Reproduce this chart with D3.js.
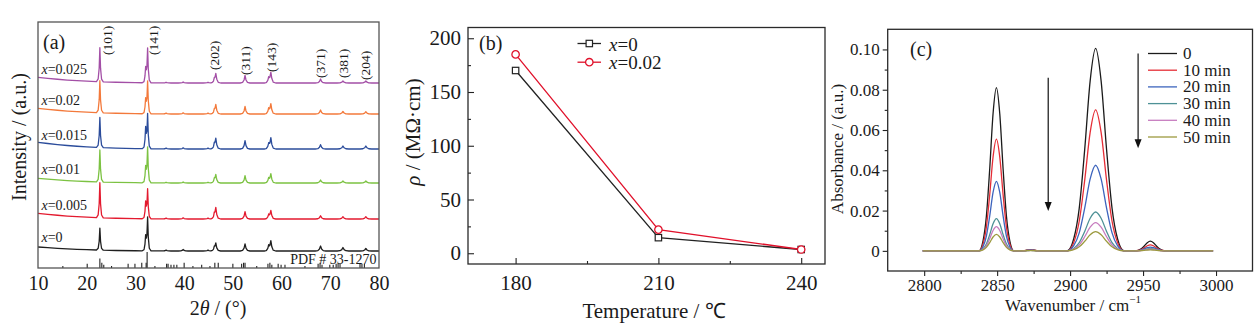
<!DOCTYPE html>
<html>
<head>
<meta charset="utf-8">
<script src="https://cdn.jsdelivr.net/npm/d3@7"></script>
<style>
  body { margin: 0; background: #fff; }
  svg text { font-family: "Liberation Serif", "Times New Roman", serif; fill: #1a1a1a; }
</style>
</head>
<body>
<svg id="fig" width="1254" height="323"></svg>
<script>
// ---------- (a) XRD patterns ----------
const xrdDoping = ["0", "0.005", "0.01", "0.015", "0.02", "0.025"];
const xrdColors = ["#1f1f1f", "#e31a2f", "#7cc242", "#2b4c9b", "#f3793b", "#a34fa6"];
const xrdOffsets = [17, 49, 85, 119, 154, 185];          // stacking offset, a.u.
const xrdStartBg = [4, 5.7, 4.7, 6.7, 5.7, 5.7];         // background level at 10°
const bgAngles = [10, 12, 14, 16, 18, 20, 23, 26, 30, 36, 80];
const bgShape  = [1, 0.82, 0.66, 0.52, 0.41, 0.32, 0.21, 0.13, 0.06, 0, 0];
const peakHkl    = ["(101)", "(141)", "(202)", "(311)", "(143)", "(371)", "(381)", "(204)"];
const peakAngles = [22.7, 32.5, 46.5, 52.5, 57.8, 68.0, 72.6, 77.3];
const peakWidths = [0.7, 0.7, 1.0, 1.0, 1.0, 1.1, 1.2, 1.2];
const peakHeights = [
  [22, 33, 7.5, 7.0, 10.0, 5.0, 3.5, 2.5],
  [35, 29, 10.7, 7.3, 8.3, 3.3, 2.3, 2.3],
  [32, 35, 8.0, 7.3, 9.0, 3.0, 2.0, 2.0],
  [30, 34, 10.0, 8.3, 11.0, 4.3, 3.0, 3.0],
  [32, 32, 9.0, 7.5, 10.0, 4.0, 2.5, 2.3],
  [34, 34, 9.0, 7.5, 10.5, 4.0, 2.0, 2.0]
];
const minorAngles = [32.1, 57.35, 46.2, 39.8, 36.3, 44.9];
const minorWidths = [0.7, 0.9, 0.8, 1.0, 1.0, 1.0];
const minorHeights = [
  [14, 5, 3, 1.5, 0.8, 0.8],
  [16, 4, 4, 1.2, 0.8, 0.8],
  [15, 4.5, 3, 1.0, 0.7, 0.7],
  [20, 5, 4, 1.2, 0.8, 0.8],
  [14, 5, 3, 1.2, 0.8, 0.8],
  [14, 5, 3, 1.0, 0.7, 0.7]
];
const xrdProfileU = [-1, -0.5, -0.2, 0, 0.2, 0.5, 1];
const xrdProfileV = [0, 0.08, 0.4, 1, 0.4, 0.08, 0];
const hklLabelAngles = [24.2, 33.8, 46.3, 52.5, 57.9, 67.9, 72.7, 77.3];
const hklLabelBase   = [213, 213, 198, 193, 196, 190, 190, 188];
// PDF # 33-1270 reference lines
const pdfAngles = [15.1, 20.1, 22.7, 23.1, 23.5, 25.1, 28.5, 29.9, 31.3, 32.2, 32.4, 34.0, 36.4, 36.7, 37.3, 37.9, 38.5,
  40.0, 41.8, 43.6, 45.3, 46.3, 47.0, 50.0, 51.8, 52.2, 52.5, 54.9, 57.2, 57.6, 58.0, 59.3, 59.9, 60.7, 64.8,
  67.5, 67.9, 68.3, 69.9, 70.6, 71.2, 71.6, 72.0, 76.1, 76.5, 77.0];
const pdfIntensity = [13, 27, 60, 33, 20, 13, 27, 27, 33, 33, 100, 13, 27, 27, 20, 20, 20,
  33, 13, 20, 13, 33, 33, 27, 27, 33, 33, 13, 27, 33, 20, 27, 20, 20, 13,
  27, 33, 20, 20, 20, 27, 27, 27, 27, 27, 27];
const xrdTicks = [10, 20, 30, 40, 50, 60, 70, 80];

// ---------- (b) resistivity ----------
const temps = [180, 210, 240];
const rhoX0 = [170, 14.5, 3.5];
const rhoX002 = [185, 22, 3.5];
const rhoMajor = [0, 50, 100, 150, 200];
const rhoMinor = [25, 75, 125, 175];
const tempMajor = [180, 210, 240];
const tempMinor = [195, 225];

// ---------- (c) FTIR ----------
const ftirTimes = ["0", "10 min", "20 min", "30 min", "40 min", "50 min"];
const ftirColors = ["#1b1b1b", "#e52d36", "#3d64bd", "#4e9196", "#c77cbf", "#9c9a3f"];
const bandCenters = [2849.5, 2873, 2917.5, 2955];
const bandHwhm = [4.6, 3, 7.5, 4.2];
const bandHeights = [
  [0.0810, 0.0006, 0.1005, 0.0048],
  [0.0555, 0.0004, 0.0700, 0.0030],
  [0.0345, 0.0003, 0.0425, 0.0019],
  [0.0160, 0.0002, 0.0193, 0.0012],
  [0.0120, 0.0002, 0.0140, 0.0008],
  [0.0082, 0.0001, 0.0095, 0.0005]
];
const scanRange = [2799, 2998];
const bandProfileU = [-2.6, -2, -1.5, -1, -0.5, 0, 0.5, 1, 1.5, 2, 2.6];
const bandProfileV = [0, 0.06, 0.21, 0.5, 0.84, 1, 0.84, 0.5, 0.21, 0.06, 0];
const wnMajor = [2800, 2850, 2900, 2950, 3000];
const wnMinor = [2825, 2875, 2925, 2975];
const absMajor = [0, 0.02, 0.04, 0.06, 0.08, 0.10];
const absMinor = [0.01, 0.03, 0.05, 0.07, 0.09];
const trendArrows = [
  { wn: 2885, from: 0.086, to: 0.0198 },
  { wn: 2946.6, from: 0.098, to: 0.051 }
];

const SERIF = '"Liberation Serif", "Times New Roman", serif';
const svg = d3.select("#fig");
svg.append("rect").attr("width", 1254).attr("height", 323).attr("fill", "#fff");

function styleAxis(g, size) {
  g.attr("font-family", null).attr("font-size", null);
  g.selectAll("text").style("font-family", SERIF).style("font-size", size + "px").attr("fill", "#1a1a1a");
  g.selectAll("line").attr("stroke", "#222").attr("stroke-width", 1.1);
  g.select(".domain").remove();
}

// ================= panel (a) =================
(function () {
  const g = svg.append("g");
  const x = d3.scaleLinear().domain([10, 80]).range([38, 379]);
  const y = d3.scaleLinear().domain([0, 246]).range([268, 22]);
  const sy = d3.scaleLinear().domain([0, 100]).range([268, 252]);
  const bg = d3.scaleLinear().domain(bgAngles).range(bgShape).clamp(true);
  const prof = d3.scaleLinear().domain(xrdProfileU).range(xrdProfileV).clamp(true);

  function points(i) {
    const peaks = [];
    peakAngles.forEach((a, k) => peaks.push([a, peakWidths[k], peakHeights[i][k]]));
    minorAngles.forEach((a, k) => peaks.push([a, minorWidths[k], minorHeights[i][k]]));
    const knots = new Set(bgAngles);
    peaks.forEach(([a, w]) => xrdProfileU.forEach(u => knots.add(+(a + u * w).toFixed(4))));
    return Array.from(knots).filter(t => t >= 10 && t <= 80).sort((p, q) => p - q).map(t => {
      let v = xrdOffsets[i] + xrdStartBg[i] * bg(t);
      peaks.forEach(([a, w, h]) => {
        const u = (t - a) / w;
        if (Math.abs(u) < 1) v += h * prof(u);
      });
      return [t, v];
    });
  }

  const line = d3.line().x(d => x(d[0])).y(d => y(d[1]));
  xrdDoping.forEach((_, i) => {
    g.append("path").attr("d", line(points(i))).attr("fill", "none")
      .attr("stroke", xrdColors[i]).attr("stroke-width", 1.3).attr("stroke-linejoin", "round");
  });

  // reference sticks
  g.selectAll("line.pdf").data(pdfAngles).join("line").attr("class", "pdf")
    .attr("x1", d => x(d)).attr("x2", d => x(d))
    .attr("y1", sy(0)).attr("y2", (d, i) => sy(pdfIntensity[i]))
    .attr("stroke", "#222").attr("stroke-width", 1.1);

  g.append("rect").attr("x", 38).attr("y", 22).attr("width", 341).attr("height", 246)
    .attr("fill", "none").attr("stroke", "#555").attr("stroke-width", 1.3);

  // sample labels
  xrdDoping.forEach((d, i) => {
    const t = g.append("text").attr("x", 41.5).attr("y", y(xrdOffsets[i] + 14))
      .attr("dominant-baseline", "central").attr("font-size", 14);
    t.append("tspan").attr("font-style", "italic").text("x");
    t.append("tspan").text("=" + d);
  });

  // hkl labels
  peakHkl.forEach((lab, k) => {
    g.append("text")
      .attr("transform", `translate(${x(hklLabelAngles[k])},${y(hklLabelBase[k])}) rotate(-90)`)
      .attr("dominant-baseline", "central").attr("font-size", 13.5).text(lab);
  });

  g.append("text").attr("x", 43).attr("y", 42).attr("dominant-baseline", "central")
    .attr("font-size", 20).text("(a)");
  g.append("text").attr("x", 376.5).attr("y", 264).attr("text-anchor", "end")
    .attr("font-size", 14).text("PDF # 33-1270");

  const ax = g.append("g").attr("transform", "translate(0,268)")
    .call(d3.axisBottom(x).tickValues(xrdTicks).tickSize(0).tickPadding(8));
  styleAxis(ax, 20);

  g.append("text").attr("transform", "translate(19,137) rotate(-90)")
    .attr("text-anchor", "middle").attr("dominant-baseline", "central")
    .attr("font-size", 20).text("Intensity / (a.u.)");
  const xt = g.append("text").attr("x", 218).attr("y", 308).attr("text-anchor", "middle")
    .attr("dominant-baseline", "central").attr("font-size", 20);
  xt.append("tspan").text("2");
  xt.append("tspan").attr("font-style", "italic").text("θ");
  xt.append("tspan").text(" / (°)");
})();

// ================= panel (b) =================
(function () {
  const g = svg.append("g");
  const x = d3.scaleLinear().domain([170, 245]).range([468, 825]);
  const y = d3.scaleLinear().domain([-10, 210]).range([264, 27.5]);

  const axB = g.append("g").attr("transform", "translate(0,264)")
    .call(d3.axisBottom(x).tickValues(tempMajor).tickSize(-6).tickPadding(11).tickFormat(d3.format("d")));
  styleAxis(axB, 21);
  const axBm = g.append("g").attr("transform", "translate(0,264)")
    .call(d3.axisBottom(x).tickValues(tempMinor).tickSize(-3).tickFormat(""));
  styleAxis(axBm, 21);
  const axL = g.append("g").attr("transform", "translate(468,0)")
    .call(d3.axisLeft(y).tickValues(rhoMajor).tickSize(-6).tickPadding(7).tickFormat(d3.format("d")));
  styleAxis(axL, 21);
  const axLm = g.append("g").attr("transform", "translate(468,0)")
    .call(d3.axisLeft(y).tickValues(rhoMinor).tickSize(-3).tickFormat(""));
  styleAxis(axLm, 21);

  g.append("rect").attr("x", 468).attr("y", 27.5).attr("width", 357).attr("height", 236.5)
    .attr("fill", "none").attr("stroke", "#2a2a2a").attr("stroke-width", 1.3);

  const series = [
    { vals: rhoX0, color: "#222", shape: "square" },
    { vals: rhoX002, color: "#e0102a", shape: "circle" }
  ];
  const line = d3.line().x((d, i) => x(temps[i])).y(d => y(d));
  function marker(sel, shape, color) {
    if (shape === "square") {
      sel.append("rect").attr("x", -3.2).attr("y", -3.2).attr("width", 6.4).attr("height", 6.4)
        .attr("fill", "#fff").attr("stroke", color).attr("stroke-width", 1.2);
    } else {
      sel.append("circle").attr("r", 3.7).attr("fill", "#fff")
        .attr("stroke", color).attr("stroke-width", 1.3);
    }
  }
  series.forEach(s => {
    g.append("path").attr("d", line(s.vals)).attr("fill", "none")
      .attr("stroke", s.color).attr("stroke-width", 1.3);
    s.vals.forEach((v, i) => {
      const m = g.append("g").attr("transform", `translate(${x(temps[i])},${y(v)})`);
      marker(m, s.shape, s.color);
    });
  });

  // legend
  const legendLabels = ["0", "0.02"];
  series.forEach((s, i) => {
    const ly = 43.5 + i * 18.7;
    g.append("line").attr("x1", 577.5).attr("x2", 601).attr("y1", ly).attr("y2", ly)
      .attr("stroke", s.color).attr("stroke-width", 1.3);
    const m = g.append("g").attr("transform", `translate(589.3,${ly})`);
    marker(m, s.shape, s.color);
    const t = g.append("text").attr("x", 609).attr("y", ly).attr("dominant-baseline", "central")
      .attr("font-size", 19);
    t.append("tspan").attr("font-style", "italic").text("x");
    t.append("tspan").text("=" + legendLabels[i]);
  });

  g.append("text").attr("x", 479).attr("y", 43).attr("dominant-baseline", "central")
    .attr("font-size", 20).text("(b)");

  const yt = g.append("text").attr("transform", "translate(413,132) rotate(-90)")
    .attr("text-anchor", "middle").attr("dominant-baseline", "central").attr("font-size", 21);
  yt.append("tspan").attr("font-style", "italic").text("ρ");
  yt.append("tspan").text(" / (MΩ·cm)");
  g.append("text").attr("x", 654).attr("y", 311).attr("text-anchor", "middle")
    .attr("dominant-baseline", "central").attr("font-size", 21).text("Temperature / ℃");
})();

// ================= panel (c) =================
(function () {
  const g = svg.append("g");
  const x = d3.scaleLinear().domain([2775, 3025]).range([887.7, 1252.5]);
  const y = d3.scaleLinear().domain([-0.01, 0.11]).range([271, 29.3]);
  const prof = d3.scaleLinear().domain(bandProfileU).range(bandProfileV).clamp(true);

  function spectrum(i) {
    const knots = new Set(scanRange);
    bandCenters.forEach((c, k) => bandProfileU.forEach(u => knots.add(+(c + u * bandHwhm[k]).toFixed(4))));
    return Array.from(knots).filter(t => t >= scanRange[0] && t <= scanRange[1])
      .sort((p, q) => p - q).map(t => {
        let v = 0;
        bandCenters.forEach((c, k) => {
          const u = (t - c) / bandHwhm[k];
          if (Math.abs(u) < 2.6) v += bandHeights[i][k] * prof(u);
        });
        return [t, v];
      });
  }
  const line = d3.line().x(d => x(d[0])).y(d => y(d[1])).curve(d3.curveMonotoneX);
  ftirTimes.forEach((_, i) => {
    g.append("path").attr("d", line(spectrum(i))).attr("fill", "none")
      .attr("stroke", ftirColors[i]).attr("stroke-width", 1.3);
  });

  const axB = g.append("g").attr("transform", "translate(0,271)")
    .call(d3.axisBottom(x).tickValues(wnMajor).tickSize(5).tickPadding(3).tickFormat(d3.format("d")));
  styleAxis(axB, 17);
  const axBm = g.append("g").attr("transform", "translate(0,271)")
    .call(d3.axisBottom(x).tickValues(wnMinor).tickSize(3).tickFormat(""));
  styleAxis(axBm, 17);
  const axL = g.append("g").attr("transform", "translate(887.7,0)")
    .call(d3.axisLeft(y).tickValues(absMajor).tickSize(5).tickPadding(3)
      .tickFormat(d => d === 0 ? "0" : d.toFixed(2)));
  styleAxis(axL, 17);
  const axLm = g.append("g").attr("transform", "translate(887.7,0)")
    .call(d3.axisLeft(y).tickValues(absMinor).tickSize(3).tickFormat(""));
  styleAxis(axLm, 17);

  g.append("rect").attr("x", 887.7).attr("y", 29.3).attr("width", 364.8).attr("height", 241.7)
    .attr("fill", "none").attr("stroke", "#2a2a2a").attr("stroke-width", 1.3);

  // decreasing-trend arrows
  trendArrows.forEach(a => {
    const ax = x(a.wn), y0 = y(a.from), y1 = y(a.to);
    g.append("line").attr("x1", ax).attr("x2", ax).attr("y1", y0).attr("y2", y1 - 6)
      .attr("stroke", "#111").attr("stroke-width", 1.2);
    g.append("path").attr("d", `M${ax - 3.5},${y1 - 9}L${ax + 3.5},${y1 - 9}L${ax},${y1}Z`)
      .attr("fill", "#111");
  });

  // legend
  ftirTimes.forEach((lab, i) => {
    const ly = 53.5 + i * 16.7;
    g.append("line").attr("x1", 1148).attr("x2", 1177).attr("y1", ly).attr("y2", ly)
      .attr("stroke", ftirColors[i]).attr("stroke-width", 1.3);
    g.append("text").attr("x", 1183).attr("y", ly).attr("dominant-baseline", "central")
      .attr("font-size", 17).text(lab);
  });

  g.append("text").attr("x", 910).attr("y", 49).attr("dominant-baseline", "central")
    .attr("font-size", 20).text("(c)");

  g.append("text").attr("transform", "translate(837,149) rotate(-90)")
    .attr("text-anchor", "middle").attr("dominant-baseline", "central")
    .attr("font-size", 17).text("Absorbance / (a.u.)");
  const xt = g.append("text").attr("x", 1073).attr("y", 305).attr("text-anchor", "middle")
    .attr("dominant-baseline", "central").attr("font-size", 17);
  xt.append("tspan").text("Wavenumber / cm");
  xt.append("tspan").attr("font-size", 11).attr("dy", -6).text("−1");
})();
</script>
</body>
</html>
